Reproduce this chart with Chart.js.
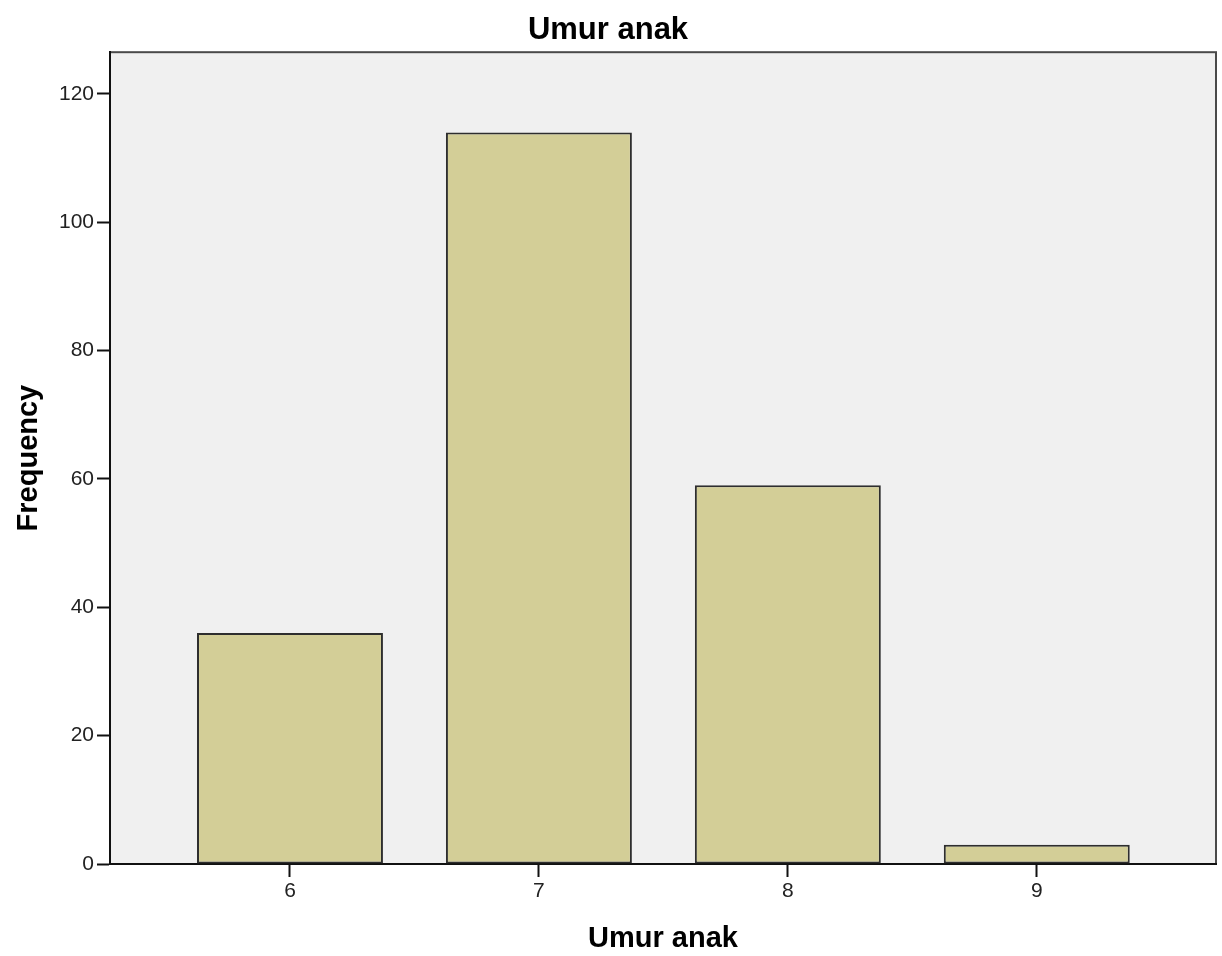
<!DOCTYPE html>
<html>
<head>
<meta charset="utf-8">
<script src="https://cdn.jsdelivr.net/npm/chart.js@4"></script>
<style>
  html, body { margin: 0; padding: 0; background: #fff; }
  #wrap { width: 1222px; height: 956px; }
</style>
</head>
<body>
<div id="wrap"><canvas id="umur"></canvas></div>
<script>
// data
const ages = [6, 7, 8, 9];
const frequency = [36, 114, 59, 3];
const yTicks = [0, 20, 40, 60, 80, 100, 120];

// plot background + top/right frame like SPSS output
const frame = {
  id: "frame",
  beforeDraw(chart) {
    const { ctx, chartArea: a } = chart;
    ctx.save();
    ctx.fillStyle = "#f0f0f0";
    ctx.fillRect(a.left, a.top, a.right - a.left, a.bottom - a.top);
    ctx.strokeStyle = "#4a4a4a";
    ctx.lineWidth = 2;
    ctx.strokeRect(a.left, a.top, a.right - a.left, a.bottom - a.top);
    ctx.restore();
  },
};

const ctx = document.getElementById("umur");
new Chart(ctx, {
  type: "bar",
  data: {
    datasets: [
      {
        label: "Frequency",
        data: ages.map((a, i) => ({ x: a, y: frequency[i] })),
        backgroundColor: "#d3ce97",
        borderColor: "#2e2e2e",
        borderWidth: 2,
        borderSkipped: false,
        categoryPercentage: 1,
        barPercentage: 0.747,
      },
    ],
  },
  options: {
    responsive: true,
    maintainAspectRatio: false,
    animation: false,
    layout: { padding: { left: 0, right: 6, top: 0, bottom: 0 } },
    plugins: {
      legend: { display: false },
      tooltip: { enabled: false },
      title: {
        display: true,
        text: "Umur anak",
        color: "#000",
        font: { family: "Liberation Sans", size: 31, weight: "bold" },
        padding: { top: 12, bottom: 3 },
      },
    },
    scales: {
      x: {
        type: "linear",
        offset: false,
        min: 5.277,
        max: 9.72,
        afterBuildTicks(scale) {
          scale.ticks = ages.map((v) => ({ value: v }));
        },
        afterFit(scale) {
          scale.height = 92;
        },
        ticks: {
          color: "#222",
          font: { family: "Liberation Sans", size: 21 },
          padding: 2,
          maxRotation: 0,
        },
        grid: {
          offset: false,
          drawOnChartArea: false,
          drawTicks: true,
          tickLength: 13,
          tickWidth: 2,
          tickColor: "#111",
        },
        border: { display: true, color: "#111", width: 2 },
        title: {
          display: true,
          text: "Umur anak",
          color: "#000",
          font: { family: "Liberation Sans", size: 29, weight: "bold" },
          padding: { top: 0, bottom: 0 },
        },
      },
      y: {
        min: 0,
        max: 126.5,
        afterBuildTicks(scale) {
          scale.ticks = yTicks.map((v) => ({ value: v }));
        },
        afterFit(scale) {
          scale.width = 110;
        },
        ticks: {
          color: "#222",
          font: { family: "Liberation Sans", size: 21 },
          padding: 3,
        },
        grid: {
          drawOnChartArea: false,
          drawTicks: true,
          tickLength: 13,
          tickWidth: 2,
          tickColor: "#111",
        },
        border: { display: true, color: "#111", width: 2 },
        title: {
          display: true,
          text: "Frequency",
          color: "#000",
          font: { family: "Liberation Sans", size: 29, weight: "bold" },
          padding: { top: 12, bottom: 0 },
        },
      },
    },
  },
  plugins: [frame],
});
</script>
</body>
</html>
